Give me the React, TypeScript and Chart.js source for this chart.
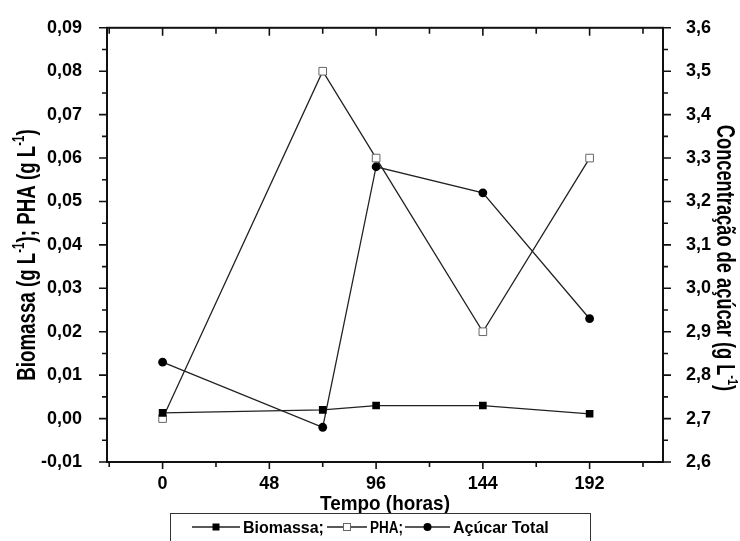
import React, { useEffect, useRef } from 'react';
import { Chart, registerables } from 'chart.js';

Chart.register(...registerables);

// ---- data ----
const times = [0, 72, 96, 144, 192];
const biomassa = [0.0013, 0.002, 0.003, 0.003, 0.0011];
const pha = [0.0, 0.08, 0.06, 0.02, 0.06];
const acucar = [2.83, 2.68, 3.28, 3.22, 2.93];

const seriesNames = ['Biomassa;', 'PHA;', 'Açúcar Total'];

const xTicks = [0, 48, 96, 144, 192];
const xMinorTicks = [-24, 24, 72, 120, 168, 216];
const leftTicks = [-0.01, 0, 0.01, 0.02, 0.03, 0.04, 0.05, 0.06, 0.07, 0.08, 0.09];
const leftMinorTicks = [-0.005, 0.005, 0.015, 0.025, 0.035, 0.045, 0.055, 0.065, 0.075, 0.085];
const rightTicks = [2.6, 2.7, 2.8, 2.9, 3.0, 3.1, 3.2, 3.3, 3.4, 3.5, 3.6];
const rightMinorTicks = [2.65, 2.75, 2.85, 2.95, 3.05, 3.15, 3.25, 3.35, 3.45, 3.55];

const xTitle = 'Tempo (horas)';
const leftTitleParts = [
  { t: 'Biomassa (g L', sup: false },
  { t: '-1', sup: true },
  { t: '); PHA (g L', sup: false },
  { t: '-1', sup: true },
  { t: ')', sup: false },
];
const rightTitleParts = [
  { t: 'Concentração de açúcar (g L', sup: false },
  { t: '-1', sup: true },
  { t: ')', sup: false },
];

const FONT = "'Liberation Sans', Arial, sans-serif";

function drawRich(ctx: any, parts: any[], size: number, sx: number, cx: number, cy: number, rot: number) {
  ctx.save();
  ctx.translate(cx, cy);
  ctx.rotate(rot);
  ctx.scale(sx, 1);
  const widths = parts.map((p) => {
    ctx.font = `bold ${p.sup ? Math.round(size * 0.6) : size}px ${FONT}`;
    return ctx.measureText(p.t).width;
  });
  const total = widths.reduce((a, b) => a + b, 0);
  let x = -total / 2;
  ctx.textAlign = 'left';
  ctx.textBaseline = 'alphabetic';
  ctx.fillStyle = '#000';
  parts.forEach((p, i) => {
    ctx.font = `bold ${p.sup ? Math.round(size * 0.6) : size}px ${FONT}`;
    ctx.fillText(p.t, x, p.sup ? -size * 0.42 : 0);
    x += widths[i];
  });
  ctx.restore();
}

function drawMarker(ctx: any, kind: string, x: number, y: number) {
  ctx.save();
  if (kind === 'filled') {
    ctx.fillStyle = '#000';
    ctx.fillRect(x - 3.5, y - 3.5, 7, 7);
  } else if (kind === 'open') {
    ctx.fillStyle = '#fff';
    ctx.strokeStyle = '#666';
    ctx.lineWidth = 1;
    ctx.fillRect(x - 3.5, y - 3.5, 7, 7);
    ctx.strokeRect(x - 3.5, y - 3.5, 7, 7);
  } else {
    ctx.fillStyle = '#000';
    ctx.beginPath();
    ctx.arc(x, y, 4, 0, Math.PI * 2);
    ctx.fill();
  }
  ctx.restore();
}

const decorPlugin = {
  id: 'decor',
  afterDraw(chart: any) {
    const ctx = chart.ctx;
    const { left, right, top, bottom } = chart.chartArea;
    const xs = chart.scales.x;
    const yl = chart.scales.y;
    const yr = chart.scales.y1;
    ctx.save();
    // frame
    ctx.strokeStyle = '#111';
    ctx.lineWidth = 2;
    ctx.strokeRect(left, top, right - left, bottom - top);
    // ticks
    ctx.lineWidth = 1.6;
    ctx.beginPath();
    const seg = (x1: number, y1: number, x2: number, y2: number) => {
      ctx.moveTo(x1, y1);
      ctx.lineTo(x2, y2);
    };
    xTicks.forEach((v) => {
      const p = xs.getPixelForValue(v);
      seg(p, bottom, p, bottom + 7);
      seg(p, top, p, top + 8);
    });
    xMinorTicks.forEach((v) => {
      const p = xs.getPixelForValue(v);
      seg(p, bottom, p, bottom + 5);
      seg(p, top, p, top + 6);
    });
    leftTicks.forEach((v) => {
      const p = yl.getPixelForValue(v);
      seg(left - 8, p, left, p);
    });
    leftMinorTicks.forEach((v) => {
      const p = yl.getPixelForValue(v);
      seg(left - 5, p, left, p);
    });
    rightTicks.forEach((v) => {
      const p = yr.getPixelForValue(v);
      seg(right, p, right + 8, p);
    });
    rightMinorTicks.forEach((v) => {
      const p = yr.getPixelForValue(v);
      seg(right, p, right + 5, p);
    });
    ctx.stroke();

    // axis titles
    drawRich(ctx, [{ t: xTitle, sup: false }], 21, 0.9, (left + right) / 2, 510, 0);
    drawRich(ctx, leftTitleParts, 26, 0.72, 35, 255, -Math.PI / 2);
    drawRich(ctx, rightTitleParts, 25, 0.73, 717, 258, Math.PI / 2);

    // legend
    ctx.lineWidth = 1;
    ctx.strokeStyle = '#333';
    ctx.strokeRect(170.5, 513.5, 420, 60);
    const items = [
      { kind: 'filled', x1: 192, x2: 240, tx: 243, w: 81 },
      { kind: 'open', x1: 327, x2: 367, tx: 370, w: 33 },
      { kind: 'circle', x1: 405, x2: 450, tx: 453, w: 97 },
    ];
    const ly = 527;
    items.forEach((it, i) => {
      ctx.strokeStyle = '#222';
      ctx.lineWidth = 1.3;
      ctx.beginPath();
      ctx.moveTo(it.x1, ly);
      ctx.lineTo(it.x2, ly);
      ctx.stroke();
      drawMarker(ctx, it.kind, (it.x1 + it.x2) / 2, ly);
      ctx.font = `bold 16px ${FONT}`;
      ctx.fillStyle = '#000';
      ctx.textAlign = 'left';
      ctx.textBaseline = 'alphabetic';
      ctx.fillText(seriesNames[i], it.tx, 533, it.w);
    });
    ctx.restore();
  },
};

export default function App() {
  const ref = useRef<HTMLCanvasElement | null>(null);

  useEffect(() => {
    if (!ref.current) return;
    const tickFont = { family: FONT, size: 18, weight: 'bold' as const };
    const chart = new Chart(ref.current, {
      type: 'line',
      data: {
        datasets: [
          {
            label: seriesNames[0],
            data: times.map((t, i) => ({ x: t, y: biomassa[i] })),
            yAxisID: 'y',
            borderColor: '#222',
            borderWidth: 1.3,
            pointStyle: 'rect',
            pointRadius: 5.4,
            pointBackgroundColor: '#000',
            pointBorderColor: '#000',
            pointBorderWidth: 0,
            tension: 0,
          },
          {
            label: seriesNames[1],
            data: times.map((t, i) => ({ x: t, y: pha[i] })),
            yAxisID: 'y',
            borderColor: '#222',
            borderWidth: 1.3,
            pointStyle: 'rect',
            pointRadius: 5.4,
            pointBackgroundColor: '#fff',
            pointBorderColor: '#666',
            pointBorderWidth: 1,
            tension: 0,
          },
          {
            label: seriesNames[2],
            data: times.map((t, i) => ({ x: t, y: acucar[i] })),
            yAxisID: 'y1',
            borderColor: '#222',
            borderWidth: 1.3,
            pointStyle: 'circle',
            pointRadius: 4.4,
            pointBackgroundColor: '#000',
            pointBorderColor: '#000',
            pointBorderWidth: 0,
            tension: 0,
          },
        ],
      },
      options: {
        animation: false,
        responsive: false,
        devicePixelRatio: 1,
        layout: { padding: { top: 25, left: 0, right: 0, bottom: 0 } },
        plugins: { legend: { display: false }, tooltip: { enabled: false } },
        scales: {
          x: {
            type: 'linear',
            position: 'bottom',
            min: -25,
            max: 225,
            grid: { display: false },
            border: { display: false },
            afterBuildTicks: (s: any) => {
              s.ticks = xTicks.map((v) => ({ value: v }));
            },
            afterFit: (s: any) => {
              s.height = 79;
            },
            ticks: {
              autoSkip: false,
              maxRotation: 0,
              padding: 3,
              color: '#000',
              font: tickFont,
              callback: (v: any) => String(v),
            },
          },
          y: {
            type: 'linear',
            position: 'left',
            min: -0.01,
            max: 0.09,
            grid: { display: false },
            border: { display: false },
            afterBuildTicks: (s: any) => {
              s.ticks = leftTicks.map((v) => ({ value: v }));
            },
            afterFit: (s: any) => {
              s.width = 107;
            },
            ticks: {
              autoSkip: false,
              padding: 17,
              color: '#000',
              font: tickFont,
              callback: (v: any) => Number(v).toFixed(2).replace('.', ','),
            },
          },
          y1: {
            type: 'linear',
            position: 'right',
            min: 2.6,
            max: 3.6,
            grid: { display: false },
            border: { display: false },
            afterBuildTicks: (s: any) => {
              s.ticks = rightTicks.map((v) => ({ value: v }));
            },
            afterFit: (s: any) => {
              s.width = 77;
            },
            ticks: {
              autoSkip: false,
              padding: 15,
              color: '#000',
              font: tickFont,
              callback: (v: any) => Number(v).toFixed(1).replace('.', ','),
            },
          },
        },
      },
      plugins: [decorPlugin],
    });
    return () => chart.destroy();
  }, []);

  return (
    <div style={{ position: 'absolute', left: 0, top: 0, width: 740, height: 541, background: '#fff' }}>
      <canvas ref={ref} width={740} height={541} style={{ display: 'block' }} />
    </div>
  );
}
